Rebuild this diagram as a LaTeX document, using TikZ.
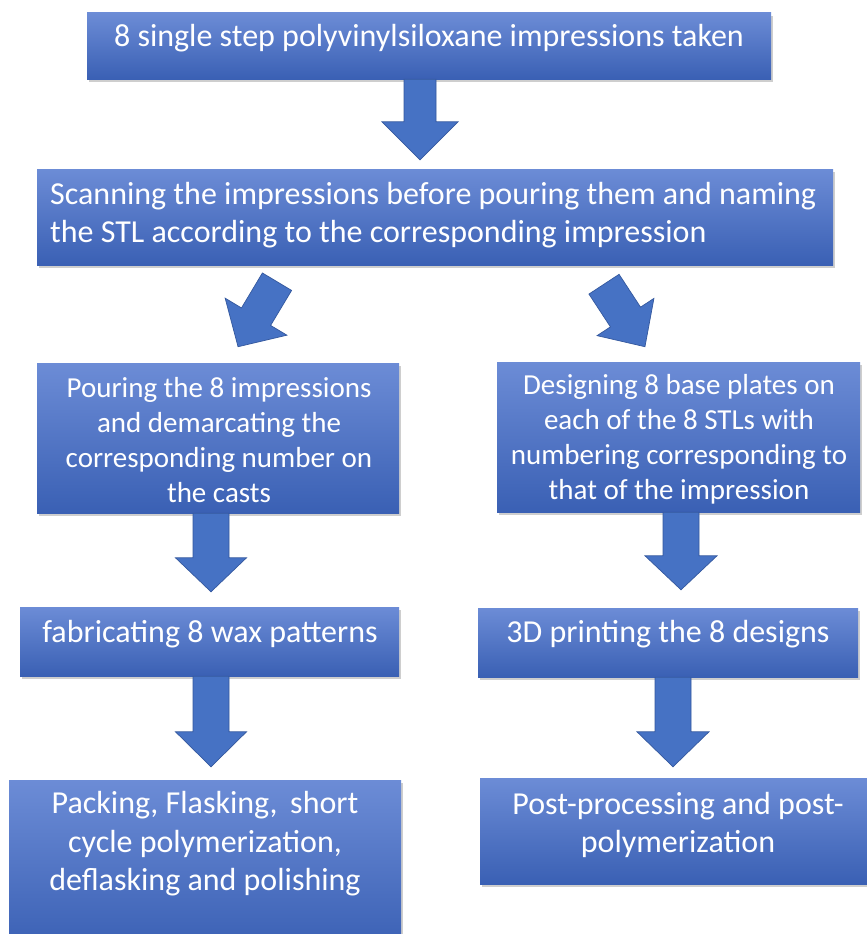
\documentclass[tikz,border=0pt]{standalone}
\usepackage{fontspec}
\setmainfont{Carlito}
\usetikzlibrary{calc,shadows}
\definecolor{boxtop}{RGB}{108,140,214}
\definecolor{boxbot}{RGB}{58,96,180}
\definecolor{arrfill}{RGB}{70,114,196}
\definecolor{arrline}{RGB}{52,88,158}
\tikzset{
  box/.style={rectangle, inner sep=0pt, draw=none, top color=boxtop, bottom color=boxbot,
    drop shadow={shadow xshift=1.5pt, shadow yshift=-3pt, opacity=0.35, fill=black!55}},
  txt/.style={inner sep=0pt, text=white, align=center, font=\fontsize{32}{38.4}\selectfont},
  txtsm/.style={txt, font=\fontsize{29}{35}\selectfont},
  arr/.style={fill=arrfill, draw=arrline, line width=0.7pt, line join=miter},
}
% #1 tail centre, #2 tip, #3 shaft half width, #4 head half width, #5 head length
\newcommand\blockarrow[5]{%
  \fill[arr] let \p1=(#1), \p2=(#2),
    \n1={atan2(\y2-\y1,\x2-\x1)}, \n2={veclen(\x2-\x1,\y2-\y1)} in
    ([shift={(\p1)},rotate=\n1]0pt,#3pt) --
    ([shift={(\p1)},rotate=\n1]\n2-#5pt,#3pt) --
    ([shift={(\p1)},rotate=\n1]\n2-#5pt,#4pt) --
    ([shift={(\p1)},rotate=\n1]\n2,0pt) --
    ([shift={(\p1)},rotate=\n1]\n2-#5pt,-#4pt) --
    ([shift={(\p1)},rotate=\n1]\n2-#5pt,-#3pt) --
    ([shift={(\p1)},rotate=\n1]0pt,-#3pt) -- cycle;}
\begin{document}
\begin{tikzpicture}[x=1pt,y=-1pt]
\fill[white] (0,0) rectangle (867,934);
\useasboundingbox (0,0) rectangle (867,934);
\clip (0,0) rectangle (867,934);

% boxes
\node[box, minimum width=684pt, minimum height=66pt]  (b1)  at (429,46) {};
\node[box, minimum width=796pt, minimum height=96pt]  (b2)  at (435,217) {};
\node[box, minimum width=362pt, minimum height=150pt] (b3l) at (218,438) {};
\node[box, minimum width=363pt, minimum height=150pt] (b3r) at (678.5,437) {};
\node[box, minimum width=379pt, minimum height=69pt]  (b4l) at (209.5,641.5) {};
\node[box, minimum width=380pt, minimum height=69pt]  (b4r) at (668,642.5) {};
\node[box, minimum width=392pt, minimum height=170pt] (b5l) at (205,865) {};
\node[box, minimum width=396pt, minimum height=106pt] (b5r) at (678,831) {};

% texts
\node[txt] (t1) at (429,38) {8 single step polyvinylsiloxane impressions taken};
\node[txt, align=left, anchor=west] (t2) at (50,215) {Scanning the impressions before pouring them and naming\\the STL according to the corresponding impression};
\node[txtsm] (t3l) at (219,440) {Pouring the 8 impressions\\and demarcating the\\corresponding number on\\the casts};
\node[txtsm] (t3r) at (679,439) {Designing 8 base plates on\\each of the 8 STLs with\\numbering corresponding to\\that of the impression};
\node[txt] (t4l) at (210,634) {fabricating 8 wax patterns};
\node[txt] (t4r) at (668,634) {3D printing the 8 designs};
\node[txt] (t5l) at (205,844) {Packing, Flasking,\, short\\cycle polymerization,\\deflasking and polishing};
\node[txt] (t5r) at (678,825) {Post-processing and post-\\polymerization};

% arrows
\blockarrow{$(b1.south)+(-9,0)$}{$(b2.north)+(-15,-9)$}{16}{38}{38}
\blockarrow{$(b2.south)+(-158,16.5)$}{$(b3l.north)+(20,-16)$}{17}{36}{35}
\blockarrow{$(b2.south)+(169,19)$}{$(b3r.north)+(-33.5,-15)$}{18}{34}{35.5}
\blockarrow{$(b3l.south)+(-7,0)$}{$(b4l.north)+(1.5,-15)$}{18}{35.5}{34}
\blockarrow{$(b3r.south)+(2.5,0)$}{$(b4r.north)+(13,-18)$}{18}{36}{34}
\blockarrow{$(b4l.south)+(1.5,0)$}{$(b5l.north)+(6,-13)$}{18}{35.5}{35}
\blockarrow{$(b4r.south)+(5,0)$}{$(b5r.north)+(-5,-11)$}{18}{36}{35}
\end{tikzpicture}
\end{document}
